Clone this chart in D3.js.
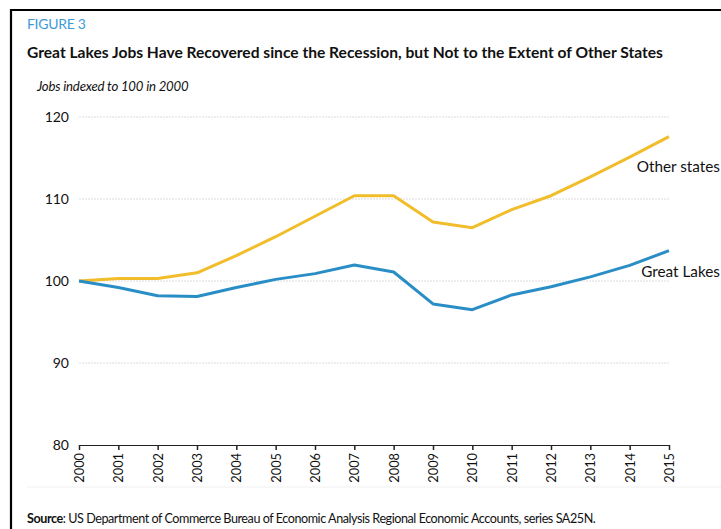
<!DOCTYPE html>
<html><head><meta charset="utf-8">
<script src="https://cdn.jsdelivr.net/npm/d3@7"></script>
<style>
html,body{margin:0;padding:0;background:#fff;}
svg{display:block;font-family:Lato,"Open Sans",sans-serif;}
</style></head>
<body>
<svg id="chart" width="721" height="529"></svg>
<script>
const years = [2000,2001,2002,2003,2004,2005,2006,2007,2008,2009,2010,2011,2012,2013,2014,2015];
const otherStates = [100,100.3,100.3,101.0,103.1,105.4,107.9,110.4,110.4,107.2,106.5,108.7,110.4,112.7,115.1,117.6];
const greatLakes = [100,99.2,98.2,98.1,99.2,100.2,100.9,101.95,101.1,97.2,96.5,98.3,99.3,100.5,101.9,103.7];
const yTicks = [80,90,100,110,120];
const seriesNames = ["Other states","Great Lakes"];
const seriesColors = ["#f1bd2b","#2a8ec6"];

const svg = d3.select("#chart");
const x = d3.scaleLinear().domain([2000,2015]).range([79,669]);
const y = d3.scaleLinear().domain([80,120]).range([445,117]);

// frame
svg.append("line").attr("x1",10).attr("x2",721).attr("y1",10).attr("y2",10).attr("stroke","#000").attr("stroke-width",2.2);
svg.append("line").attr("x1",11).attr("x2",11).attr("y1",9).attr("y2",529).attr("stroke","#000").attr("stroke-width",2.2);

svg.append("text").attr("x",27).attr("y",29).attr("fill","#3d9ad6").attr("font-size",14).attr("letter-spacing",-0.3).text("FIGURE 3");
svg.append("text").attr("x",27).attr("y",58).attr("fill","#111").attr("font-weight",700).attr("font-size",15.6).text("Great Lakes Jobs Have Recovered since the Recession, but Not to the Extent of Other States");
svg.append("text").attr("x",37).attr("y",91).attr("fill","#111").attr("font-style","italic").attr("font-size",13.2).attr("letter-spacing",-0.2).text("Jobs indexed to 100 in 2000");

// grid
svg.append("g").selectAll("line").data(yTicks.filter(d=>d>80)).join("line")
  .attr("x1",79).attr("x2",669).attr("y1",d=>y(d)).attr("y2",d=>y(d))
  .attr("stroke","#dcdcdc").attr("stroke-width",1).attr("stroke-dasharray","2,1");

// y labels
svg.append("g").selectAll("text").data(yTicks).join("text")
  .attr("x",69).attr("y",d=>y(d)).attr("dy","0.35em").attr("text-anchor","end")
  .attr("font-size",14).attr("fill","#111").text(d=>d);

// x axis
const xa = svg.append("g").attr("transform",`translate(0,${y(80)})`)
  .call(d3.axisBottom(x).tickValues(years).tickFormat(d3.format("d")).tickSize(5).tickSizeOuter(0));
xa.select(".domain").attr("stroke","#222").attr("stroke-width",1.2);
xa.selectAll(".tick line").attr("stroke","#222").attr("stroke-width",1.5);
xa.selectAll(".tick text").attr("font-family","Lato,sans-serif").attr("font-size",12.8).attr("fill","#111")
  .attr("transform","rotate(-90)").attr("text-anchor","end").attr("x",-8).attr("y",0).attr("dy","0.35em");

// footer rule
svg.append("line").attr("x1",27).attr("x2",721).attr("y1",487).attr("y2",487).attr("stroke","#f0f0f0").attr("stroke-width",1);

// lines
const line = d3.line().x((d,i)=>x(years[i])).y(d=>y(d));
[otherStates,greatLakes].forEach((s,k)=>{
  svg.append("path").datum(s).attr("d",line).attr("fill","none")
    .attr("stroke",seriesColors[k]).attr("stroke-width",3).attr("stroke-linejoin","round");
});
svg.append("text").attr("x",720).attr("y",172).attr("text-anchor","end").attr("font-size",15.3).attr("fill","#111").text(seriesNames[0]);
svg.append("text").attr("x",720).attr("y",277).attr("text-anchor","end").attr("font-size",15.3).attr("fill","#111").text(seriesNames[1]);

const src = svg.append("text").attr("x",27).attr("y",523).attr("font-size",12.6).attr("letter-spacing",-0.45).attr("fill","#111");
src.append("tspan").attr("font-weight",700).text("Source");
src.append("tspan").text(": US Department of Commerce Bureau of Economic Analysis Regional Economic Accounts, series SA25N.");
</script>
</body></html>
